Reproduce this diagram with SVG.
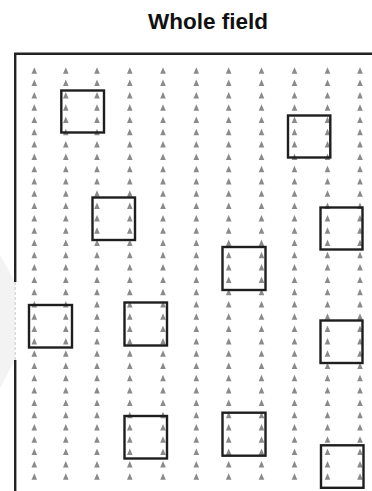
<svg xmlns="http://www.w3.org/2000/svg" xmlns:xlink="http://www.w3.org/1999/xlink" width="372" height="491" viewBox="0 0 372 491">
<style>
.t{font-family:"Liberation Sans",Arial,sans-serif;font-weight:bold;font-size:22.5px;fill:#111}
.b{fill:none;stroke:#222;stroke-width:2.4}
.q{fill:none;stroke:#1e1e1e;stroke-width:2.4}
.p{fill:#8a8a8a}
</style>
<defs>
<polygon id="tri" class="p" points="0,-3.4 2.8,3.1 -2.8,3.1"/>
<g id="col">
<use xlink:href="#tri" y="70.7"/><use xlink:href="#tri" y="83"/><use xlink:href="#tri" y="95.3"/><use xlink:href="#tri" y="107.6"/><use xlink:href="#tri" y="119.9"/><use xlink:href="#tri" y="132.2"/><use xlink:href="#tri" y="144.5"/><use xlink:href="#tri" y="156.8"/><use xlink:href="#tri" y="169.1"/><use xlink:href="#tri" y="181.4"/><use xlink:href="#tri" y="193.7"/><use xlink:href="#tri" y="206"/><use xlink:href="#tri" y="218.3"/><use xlink:href="#tri" y="230.6"/><use xlink:href="#tri" y="242.9"/><use xlink:href="#tri" y="255.2"/><use xlink:href="#tri" y="267.5"/><use xlink:href="#tri" y="279.8"/><use xlink:href="#tri" y="292.1"/><use xlink:href="#tri" y="304.4"/><use xlink:href="#tri" y="316.7"/><use xlink:href="#tri" y="329"/><use xlink:href="#tri" y="341.3"/><use xlink:href="#tri" y="353.6"/><use xlink:href="#tri" y="365.9"/><use xlink:href="#tri" y="378.2"/><use xlink:href="#tri" y="390.5"/><use xlink:href="#tri" y="402.8"/><use xlink:href="#tri" y="415.1"/><use xlink:href="#tri" y="427.4"/><use xlink:href="#tri" y="439.7"/><use xlink:href="#tri" y="452"/><use xlink:href="#tri" y="464.3"/><use xlink:href="#tri" y="476.6"/>
</g>
</defs>
<rect width="372" height="491" fill="#fff"/>
<text class="t" x="208" y="29" text-anchor="middle">Whole field</text>
<polygon points="0,255 15,282 15,360 0,388" fill="#f3f3f3"/>
<g id="field">
<path class="b" d="M372,53.8 H15.2 V282 M15.2,360 V491"/>
<line x1="15.2" y1="282" x2="15.2" y2="360" stroke="#c8c8c8" stroke-width="1" stroke-dasharray="3,2"/>
</g>
<g id="plants">
<use xlink:href="#col" x="34.3"/><use xlink:href="#col" x="65.8"/><use xlink:href="#col" x="97"/><use xlink:href="#col" x="129.8"/><use xlink:href="#col" x="163"/><use xlink:href="#col" x="196.3"/><use xlink:href="#col" x="228.7"/><use xlink:href="#col" x="261.5"/><use xlink:href="#col" x="294.5"/><use xlink:href="#col" x="327.5"/><use xlink:href="#col" x="360"/>
</g>
<g id="quadrats">
<rect id="q1" class="q" x="61.3" y="90.5" width="42.7" height="42"/>
<rect id="q2" class="q" x="288" y="115.5" width="42.3" height="42"/>
<rect id="q3" class="q" x="92.5" y="197.5" width="42.5" height="42.5"/>
<rect id="q4" class="q" x="320.5" y="207.5" width="42" height="42"/>
<rect id="q5" class="q" x="222.5" y="247" width="43" height="43"/>
<rect id="q6" class="q" x="29" y="305" width="43" height="42.5"/>
<rect id="q7" class="q" x="124.5" y="302.5" width="42.5" height="43"/>
<rect id="q8" class="q" x="320.5" y="320.5" width="42" height="42.5"/>
<rect id="q9" class="q" x="124.5" y="416" width="42.5" height="42.5"/>
<rect id="q10" class="q" x="222.5" y="412.7" width="43" height="43"/>
<rect id="q11" class="q" x="321" y="445.3" width="42.5" height="42.5"/>
</g>
</svg>
